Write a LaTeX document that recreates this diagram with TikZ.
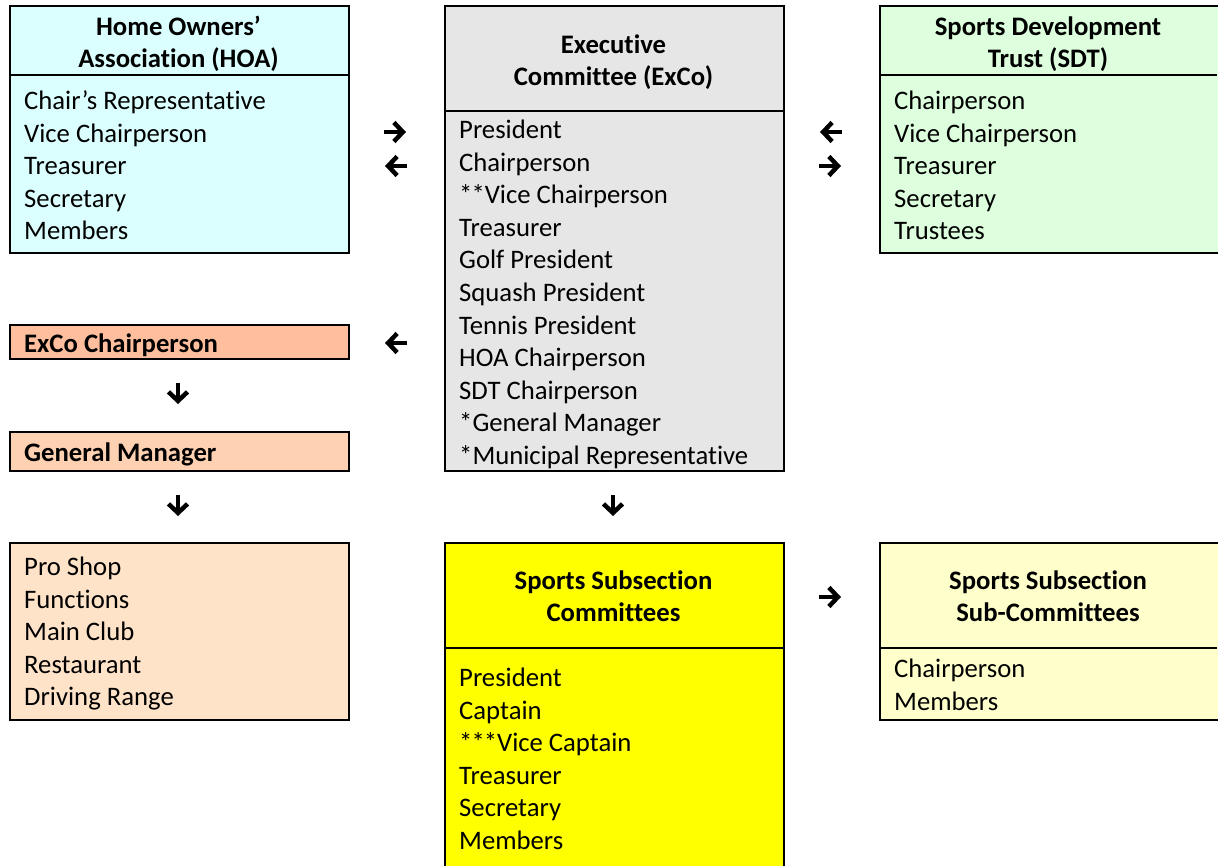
\documentclass[tikz,border=0pt]{standalone}
\usepackage{fontspec}
\setmainfont{Carlito}[Ligatures=NoCommon,RawFeature={-liga;-clig;-dlig;-calt}]
\usetikzlibrary{arrows.meta}
\definecolor{hoac}{HTML}{DBFFFF}
\definecolor{excoc}{HTML}{E6E6E6}
\definecolor{sdtc}{HTML}{DDFFDD}
\definecolor{chairc}{HTML}{FFBF9F}
\definecolor{gmc}{HTML}{FFD1B3}
\definecolor{opsc}{HTML}{FFE3C9}
\definecolor{ssc}{HTML}{FFFF00}
\definecolor{subc}{HTML}{FFFFCC}
\begin{document}
\begin{tikzpicture}[x=1pt,y=-1pt,
  box/.style={draw=black,line width=2pt,anchor=north west,inner sep=0pt,minimum width=339pt},
  txt/.style={anchor=base west,inner sep=0pt,font=\fontsize{26.7}{32.5}\selectfont},
  head/.style={anchor=base,inner sep=0pt,font=\fontsize{26.7}{32.5}\selectfont\bfseries},
  glyph/.style={line width=4.5pt,-{Straight Barb[length=9pt,width=19pt,line width=4.5pt]}}]
\useasboundingbox (0,0) rectangle (1218,865);
% boxes
\node[box,fill=hoac,minimum height=247pt] (hoa) at (9,5) {};
\node[box,fill=excoc,minimum height=465pt] (exco) at (444,5) {};
\node[box,fill=sdtc,minimum height=247pt] (sdt) at (879,5) {};
\node[box,fill=chairc,minimum height=34pt] (chair) at (9,324) {};
\node[box,fill=gmc,minimum height=39pt] (gm) at (9,431) {};
\node[box,fill=opsc,minimum height=177pt] (ops) at (9,542) {};
\node[box,fill=ssc,minimum height=328pt] (ss) at (444,542) {};
\node[box,fill=subc,minimum height=177pt] (sub) at (879,542) {};
% dividers
\draw[line width=2pt] (9,75) -- (348,75);
\draw[line width=2pt] (444,111) -- (783,111);
\draw[line width=2pt] (879,75) -- (1217,75);
\draw[line width=2pt] (444,648) -- (783,648);
\draw[line width=2pt] (879,648) -- (1217,648);
% headers
\node[head] (hoah1) at (178.5,35) {Home Owners’};
\node[head] (hoah2) at (178.5,67) {Association (HOA)};
\node[head] (excoh1) at (613.5,53) {Executive};
\node[head] (excoh2) at (613.5,85) {Committee (ExCo)};
\node[head] (sdth1) at (1048,35) {Sports Development};
\node[head] (sdth2) at (1048,67) {Trust (SDT)};
\node[head] (ssh1) at (613.5,589) {Sports Subsection};
\node[head] (ssh2) at (613.5,621) {Committees};
\node[head] (subh1) at (1048,589) {Sports Subsection};
\node[head] (subh2) at (1048,621) {Sub-Committees};
\node[head,anchor=base west] (chairt) at (24,352) {ExCo Chairperson};
\node[head,anchor=base west] (gmt) at (24,461) {General Manager};
% lists
\foreach \t [count=\i] in {Chair’s Representative,Vice Chairperson,Treasurer,Secretary,Members}
  \node[txt] (hoa-\i) at (24,{109.5+(\i-1)*32.6}) {\t};
\foreach \t [count=\i] in {President,Chairperson,*\kern-1pt*Vice Chairperson,Treasurer,Golf President,Squash President,Tennis President,HOA Chairperson,SDT Chairperson,*General Manager,*Municipal Representative}
  \node[txt] (exco-\i) at (459,{138.5+(\i-1)*32.6}) {\t};
\foreach \t [count=\i] in {Chairperson,Vice Chairperson,Treasurer,Secretary,Trustees}
  \node[txt] (sdt-\i) at (894,{109.5+(\i-1)*32.6}) {\t};
\foreach \t [count=\i] in {Pro Shop,Functions,Main Club,Restaurant,Driving Range}
  \node[txt] (ops-\i) at (24,{575.5+(\i-1)*32.6}) {\t};
\foreach \t [count=\i] in {President,Captain,*\kern-1pt*\kern-1pt*Vice Captain,Treasurer,Secretary,Members}
  \node[txt] (ss-\i) at (459,{686.5+(\i-1)*32.6}) {\t};
\foreach \t [count=\i] in {Chairperson,Members}
  \node[txt] (sub-\i) at (894,{677.5+(\i-1)*32.6}) {\t};
% arrow glyphs
\coordinate (a1s) at (384,132); \coordinate (a1e) at (406,132);
\coordinate (a2s) at (407,166); \coordinate (a2e) at (385,166);
\coordinate (a3s) at (842,132); \coordinate (a3e) at (820,132);
\coordinate (a4s) at (819,166); \coordinate (a4e) at (841,166);
\coordinate (a5s) at (407,343); \coordinate (a5e) at (385,343);
\coordinate (a6s) at (178,383); \coordinate (a6e) at (178,404);
\coordinate (a7s) at (178,495); \coordinate (a7e) at (178,516);
\coordinate (a8s) at (613,495); \coordinate (a8e) at (613,516);
\coordinate (a9s) at (819,597); \coordinate (a9e) at (841,597);
\foreach \k in {1,...,9} \draw[glyph] (a\k s) -- (a\k e);
\end{tikzpicture}
\end{document}
